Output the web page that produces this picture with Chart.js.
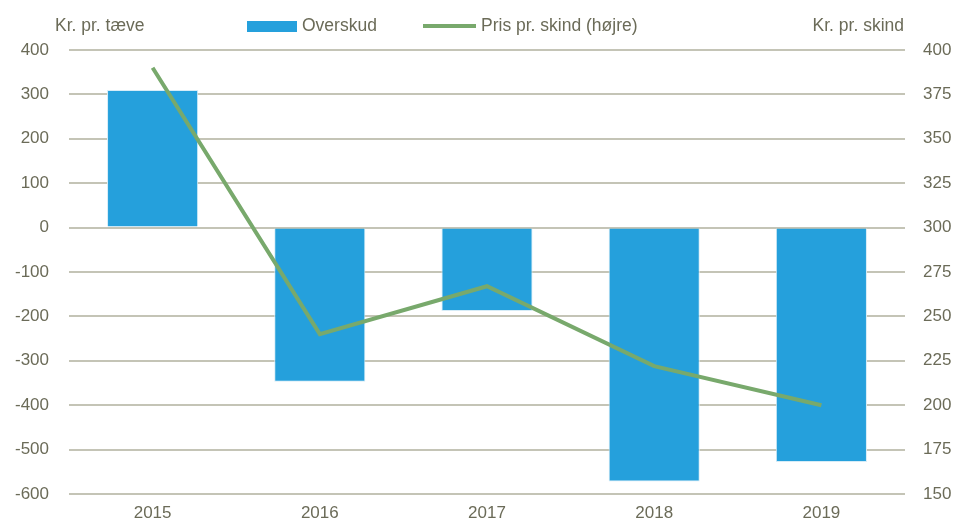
<!DOCTYPE html>
<html>
<head>
<meta charset="utf-8">
<script src="https://cdn.jsdelivr.net/npm/chart.js@4"></script>
<style>
  html, body { margin: 0; padding: 0; background: #fff; }
  #wrap { width: 962px; height: 530px; position: relative; }
</style>
</head>
<body>
<div id="wrap"><canvas id="chart"></canvas></div>
<script>
const years = ['2015', '2016', '2017', '2018', '2019'];
const overskud = [310, -347, -188, -572, -528];
const prisPrSkind = [390, 240, 267, 222, 200];

const FONT = "'Liberation Sans', Arial, sans-serif";
const TXT = '#6b6b58';
const BLUE = '#25a0dc';
const GREEN = '#78a96c';

// titles and legend drawn by hand to match the layout
const extras = {
    id: 'extras',
    afterDraw(chart) {
        const c = chart.ctx;
        c.save();
        c.font = '17.5px ' + FONT;
        c.fillStyle = TXT;
        c.textBaseline = 'middle';
        c.textAlign = 'left';
        c.fillText('Kr. pr. tæve', 55, 26);
        c.textAlign = 'right';
        c.fillText('Kr. pr. skind', 904, 26);
        c.textAlign = 'left';
        c.fillStyle = BLUE;
        c.fillRect(247, 21, 50, 11);
        c.fillStyle = TXT;
        c.fillText('Overskud', 302, 26);
        c.strokeStyle = GREEN;
        c.lineWidth = 4;
        c.beginPath(); c.moveTo(423, 26); c.lineTo(476, 26); c.stroke();
        c.fillText('Pris pr. skind (højre)', 481, 26);
        c.restore();
    }
};

new Chart(document.getElementById('chart'), {
    data: {
        labels: years,
        datasets: [
            { type: 'line', label: 'Pris pr. skind (højre)', data: prisPrSkind, yAxisID: 'y1',
              borderColor: GREEN, borderWidth: 4, pointRadius: 0, tension: 0, order: 0 },
            { type: 'bar', label: 'Overskud', data: overskud, yAxisID: 'y',
              backgroundColor: BLUE, borderColor: '#d6ecf7', borderWidth: 1,
              categoryPercentage: 1, barPercentage: 0.545, order: 1 }
        ]
    },
    options: {
        responsive: true, maintainAspectRatio: false, animation: false,
        layout: { padding: { top: 50, left: 0, right: 0, bottom: 0 } },
        plugins: { legend: { display: false }, tooltip: { enabled: false } },
        scales: {
            x: {
                grid: { display: false }, border: { display: false },
                ticks: { color: TXT, font: { family: FONT, size: 17 }, padding: 1 },
                afterFit: s => { s.height = 36; }
            },
            y: {
                position: 'left', min: -600, max: 400,
                ticks: { stepSize: 100, color: TXT, font: { family: FONT, size: 17 }, padding: 20 },
                grid: { color: '#c4c4b6', lineWidth: 2, drawTicks: false }, border: { display: false },
                afterFit: s => { s.width = 69; }
            },
            y1: {
                position: 'right', min: 150, max: 400,
                ticks: { stepSize: 25, color: TXT, font: { family: FONT, size: 17 }, padding: 18 },
                grid: { display: false, drawTicks: false }, border: { display: false },
                afterFit: s => { s.width = 57; }
            }
        }
    },
    plugins: [extras]
});
</script>
</body>
</html>
